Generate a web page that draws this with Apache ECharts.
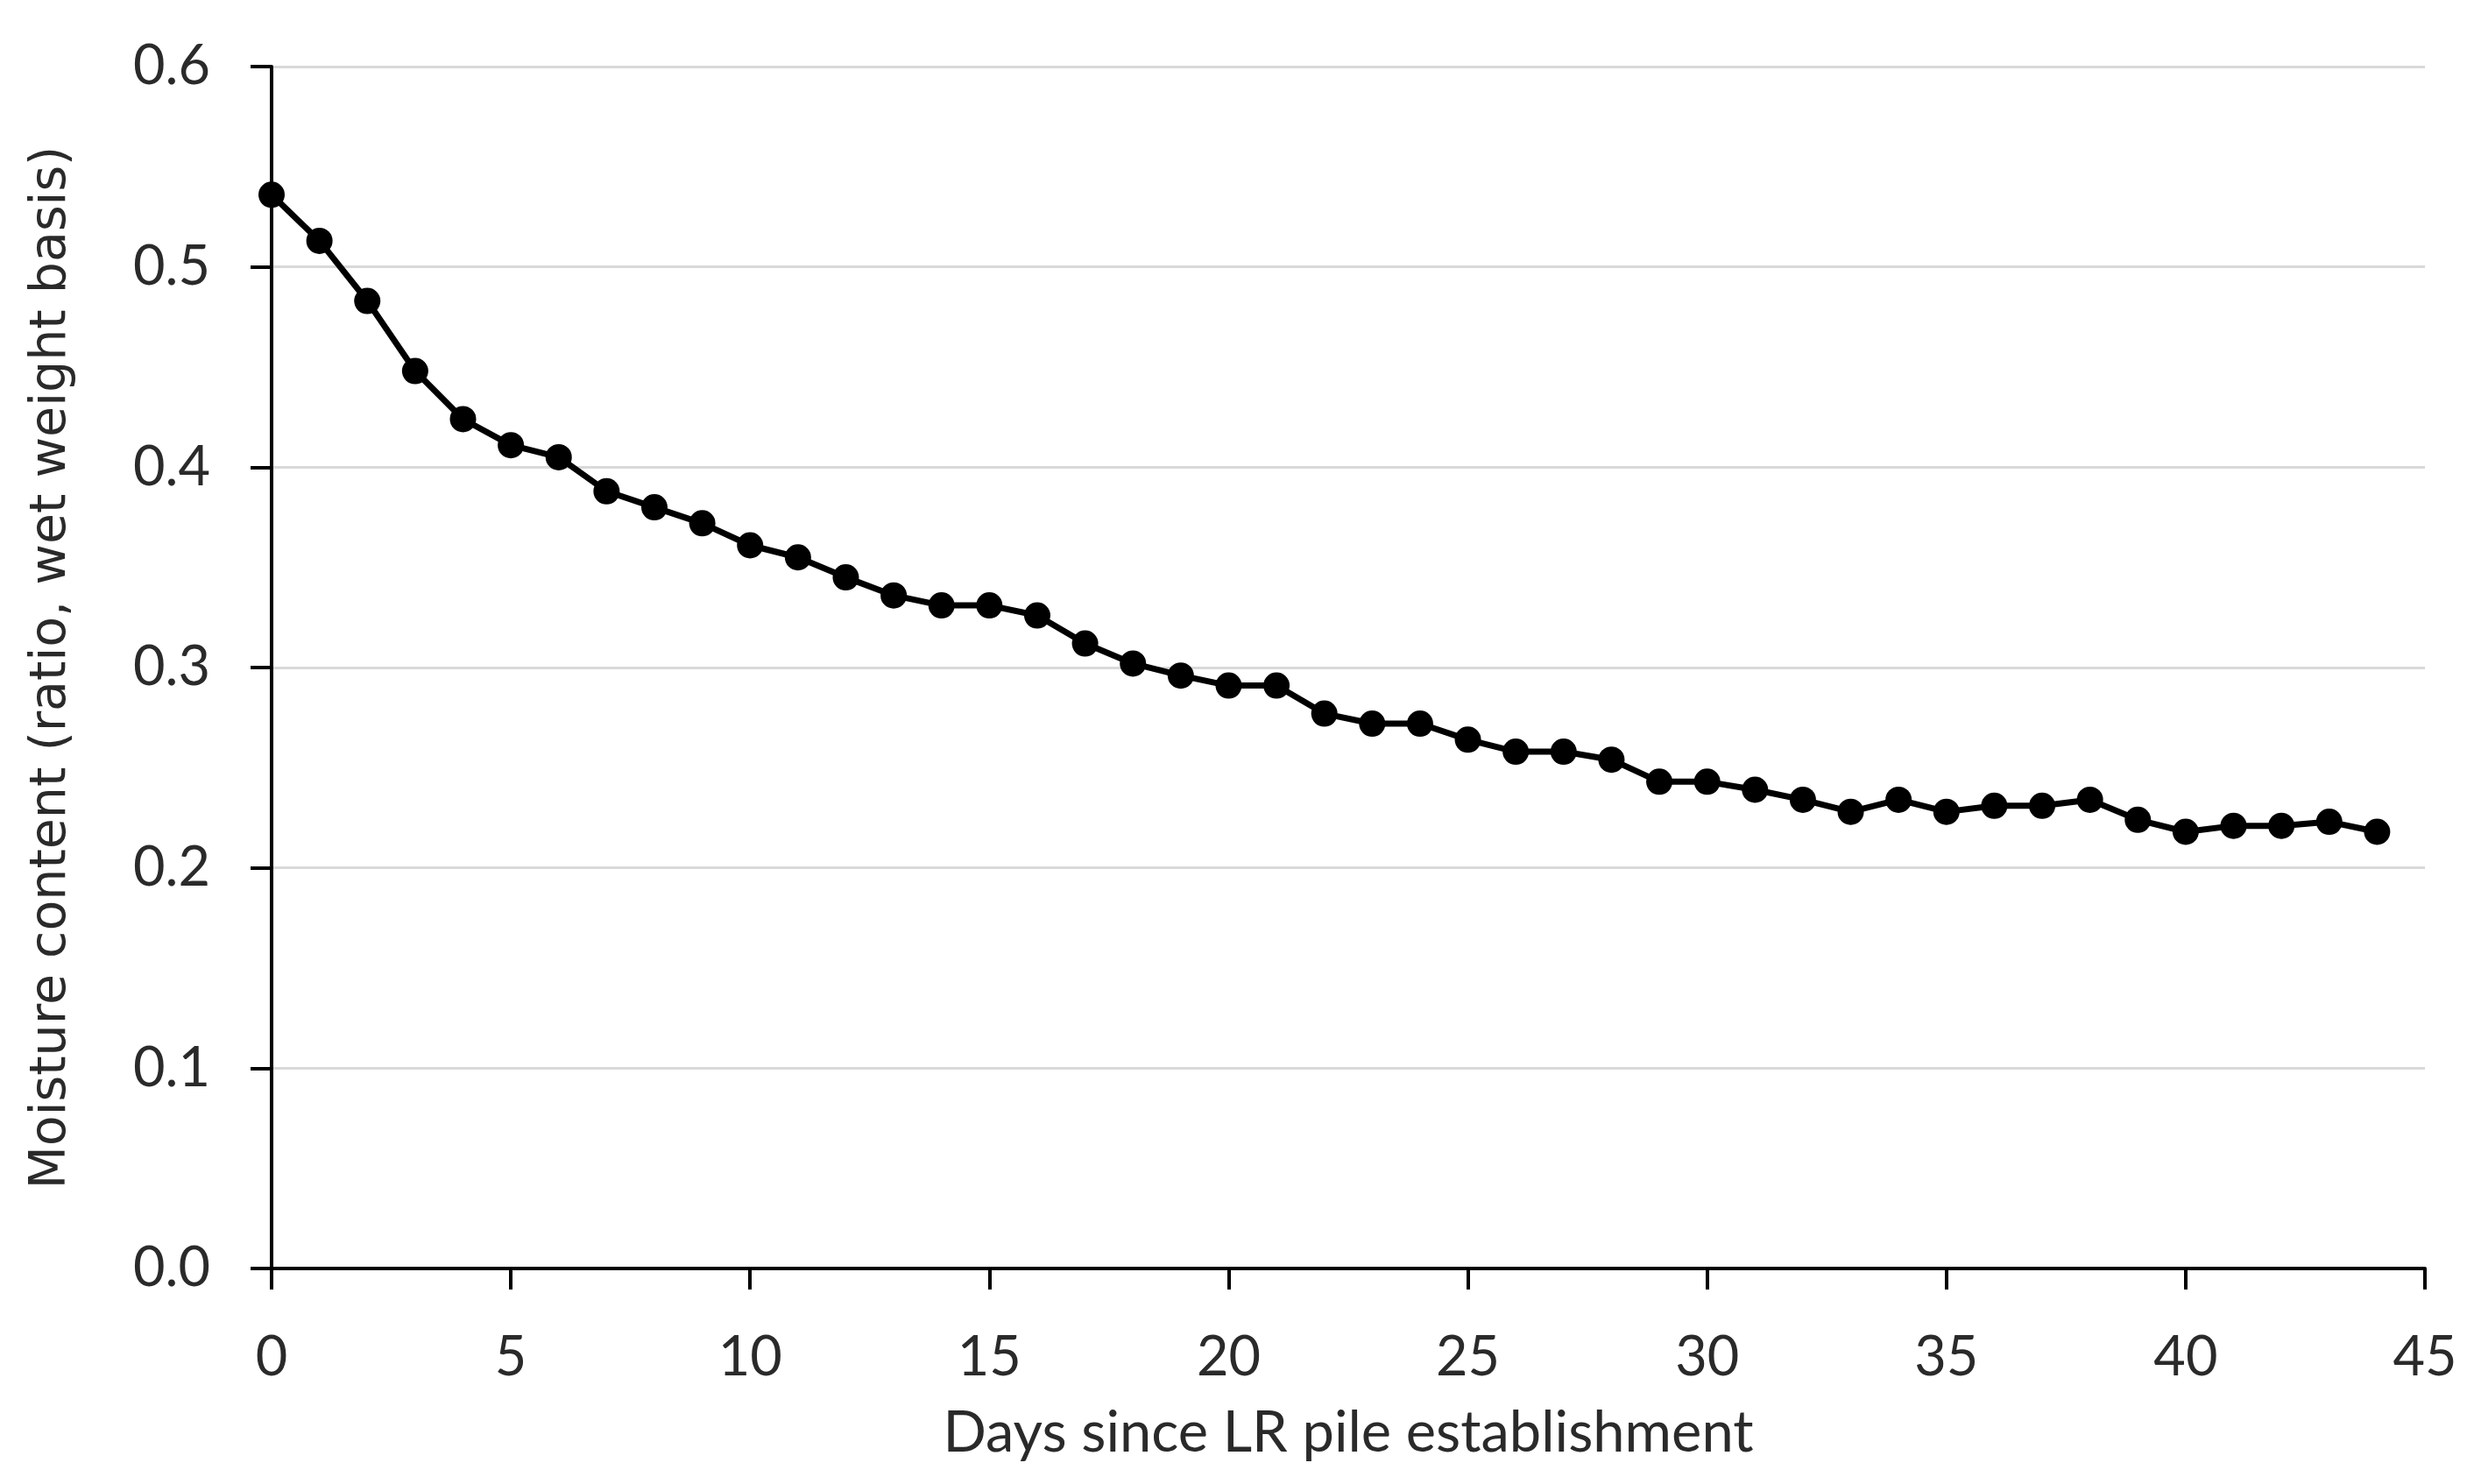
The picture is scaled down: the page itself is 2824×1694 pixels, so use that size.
<!DOCTYPE html>
<html><head><meta charset="utf-8">
<script src="https://cdn.jsdelivr.net/npm/echarts@6/dist/echarts.min.js"></script>
<style>html,body{margin:0;padding:0;background:#fff}#c{width:2824px;height:1694px}</style>
</head><body><div id="c"></div>
<script>
const days = [0,1,2,3,4,5,6,7,8,9,10,11,12,13,14,15,16,17,18,19,20,21,22,23,24,25,26,27,28,29,30,31,32,33,34,35,36,37,38,39,40,41,42,43,44];
const moisture = [0.536,0.513,0.483,0.448,0.424,0.411,0.405,0.388,0.380,0.372,0.361,0.355,0.345,0.336,0.331,0.331,0.326,0.312,0.302,0.296,0.291,0.291,0.277,0.272,0.272,0.264,0.258,0.258,0.254,0.243,0.243,0.239,0.234,0.228,0.234,0.228,0.231,0.231,0.234,0.224,0.218,0.221,0.221,0.223,0.218];
const xTitle = 'Days since LR pile establishment';
const yTitle = 'Moisture content (ratio, wet weight basis)';

const chart = echarts.init(document.getElementById('c'));
const tickFont = 'Lato, "Open Sans", sans-serif';
chart.setOption({
  animation: false,
  grid: {left: 310, right: 56, top: 76, bottom: 246},
  xAxis: {
    type: 'value', min: 0, max: 45, interval: 5,
    name: xTitle, nameLocation: 'middle', nameGap: 156,
    nameTextStyle: {fontFamily: tickFont, fontSize: 65, color: '#2a2a2a'},
    axisLine: {show: true, lineStyle: {color: '#000', width: 4}},
    axisTick: {show: true, length: 24, lineStyle: {color: '#000', width: 4}},
    axisLabel: {fontFamily: tickFont, fontSize: 63, color: '#2a2a2a', margin: 70},
    splitLine: {show: false}
  },
  yAxis: {
    type: 'value', min: 0, max: 0.6, interval: 0.1,
    name: yTitle, nameLocation: 'middle', nameGap: 222,
    nameTextStyle: {fontFamily: '"DejaVu Sans", sans-serif', fontSize: 57, color: '#2a2a2a'},
    axisLine: {show: true, lineStyle: {color: '#000', width: 4}},
    axisTick: {show: true, length: 24, lineStyle: {color: '#000', width: 4}},
    axisLabel: {fontFamily: tickFont, fontSize: 63, color: '#2a2a2a', margin: 70,
      formatter: v => v.toFixed(1)},
    splitLine: {show: true, lineStyle: {color: '#d9d9d9', width: 3}}
  },
  series: [{
    type: 'line',
    data: days.map((d, i) => [d, moisture[i]]),
    symbol: 'circle', symbolSize: 30,
    lineStyle: {color: '#000', width: 7},
    itemStyle: {color: '#000'}
  }]
});
</script></body></html>
